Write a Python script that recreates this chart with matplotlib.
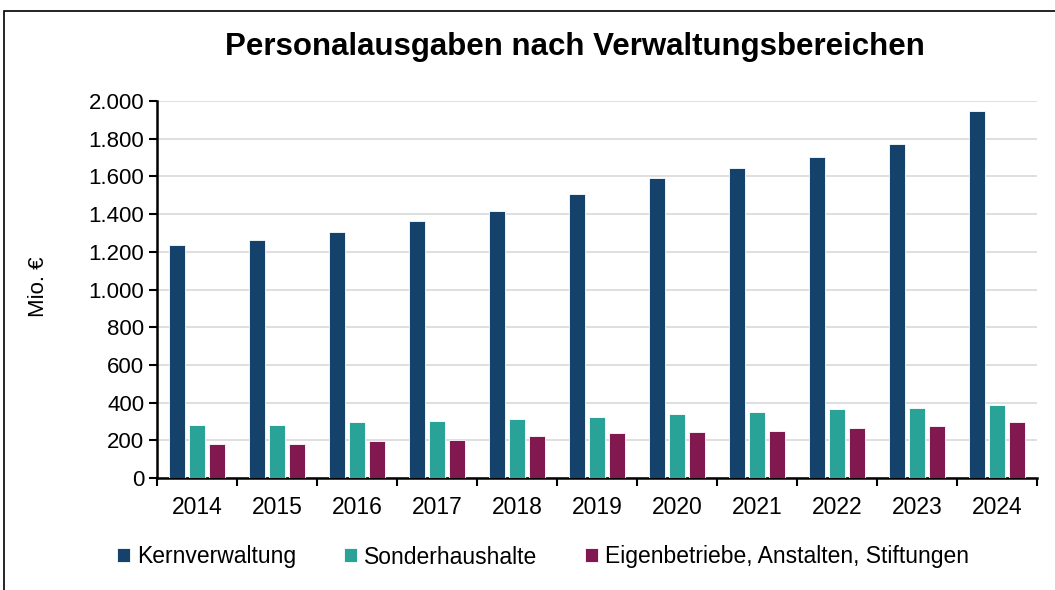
import matplotlib
matplotlib.use("Agg")
import matplotlib.pyplot as plt
from matplotlib.patches import Rectangle
from matplotlib.ticker import FuncFormatter
import numpy as np

plt.rcParams['font.family'] = ['Liberation Sans', 'DejaVu Sans']

years = ['2014', '2015', '2016', '2017', '2018', '2019', '2020', '2021', '2022', '2023', '2024']
kern = [1235, 1262, 1304, 1362, 1417, 1505, 1589, 1643, 1704, 1772, 1949]
sonder = [283, 283, 297, 304, 311, 323, 338, 350, 364, 371, 385]
eigen = [182, 182, 196, 203, 223, 237, 244, 251, 263, 278, 299]
labels = ['Kernverwaltung', 'Sonderhaushalte', 'Eigenbetriebe, Anstalten, Stiftungen']
colors = ['#14426b', '#29a398', '#81184f']

fig = plt.figure(figsize=(10.55, 5.9), dpi=100)
ax = fig.add_axes([157/1055, 1-478/590, 880/1055, 377/590])

# frame around the chart area
fig.patches.append(Rectangle((4/1055, -0.1), 1.2, 1.1-11/590, transform=fig.transFigure,
                             fill=False, edgecolor='black', linewidth=1.2))

x = np.arange(len(years))
w = 0.205
for i, (vals, lab, col) in enumerate(zip([kern, sonder, eigen], labels, colors)):
    ax.bar(x + (i-1)*0.25, vals, w, color=col, label=lab, edgecolor='white', linewidth=0.6, zorder=3)

ax.set_xlim(-0.5, len(years)-0.5)
ax.set_ylim(0, 2000)
ax.set_yticks(np.arange(0, 2001, 200))
ax.yaxis.set_major_formatter(FuncFormatter(lambda v, p: f'{int(v):,}'.replace(',', '.')))
ax.set_xticks(x)
ax.set_xticklabels(years)
ax.set_xticks(np.arange(-0.5, len(years), 1), minor=True)
ax.tick_params(axis='x', which='major', length=0, pad=13, labelsize=16.5)
ax.tick_params(axis='x', which='minor', length=6, width=1.5, direction='out')
ax.tick_params(axis='y', length=6, width=1.5, direction='out', labelsize=16, pad=3)
ax.grid(axis='y', color='#d9d9d9', linewidth=1.2, zorder=0)
for s in ['top', 'right']:
    ax.spines[s].set_visible(False)
for s in ['left', 'bottom']:
    ax.spines[s].set_linewidth(1.8)

fig.text(38/1055, 1-287/590, 'Mio. €', rotation=90, ha='center', va='center', fontsize=16)

fig.text(575/1055, 1-47/590, 'Personalausgaben nach Verwaltungsbereichen',
         ha='center', va='center', fontsize=22.5, fontweight='bold')

ax.legend(loc='center', bbox_to_anchor=((543-157)/880, -79/377), ncol=3, frameon=False, fontsize=16.5,
          handlelength=0.55, handleheight=0.55, handletextpad=0.3, columnspacing=2.1)

fig.savefig('out.png', dpi=100)
